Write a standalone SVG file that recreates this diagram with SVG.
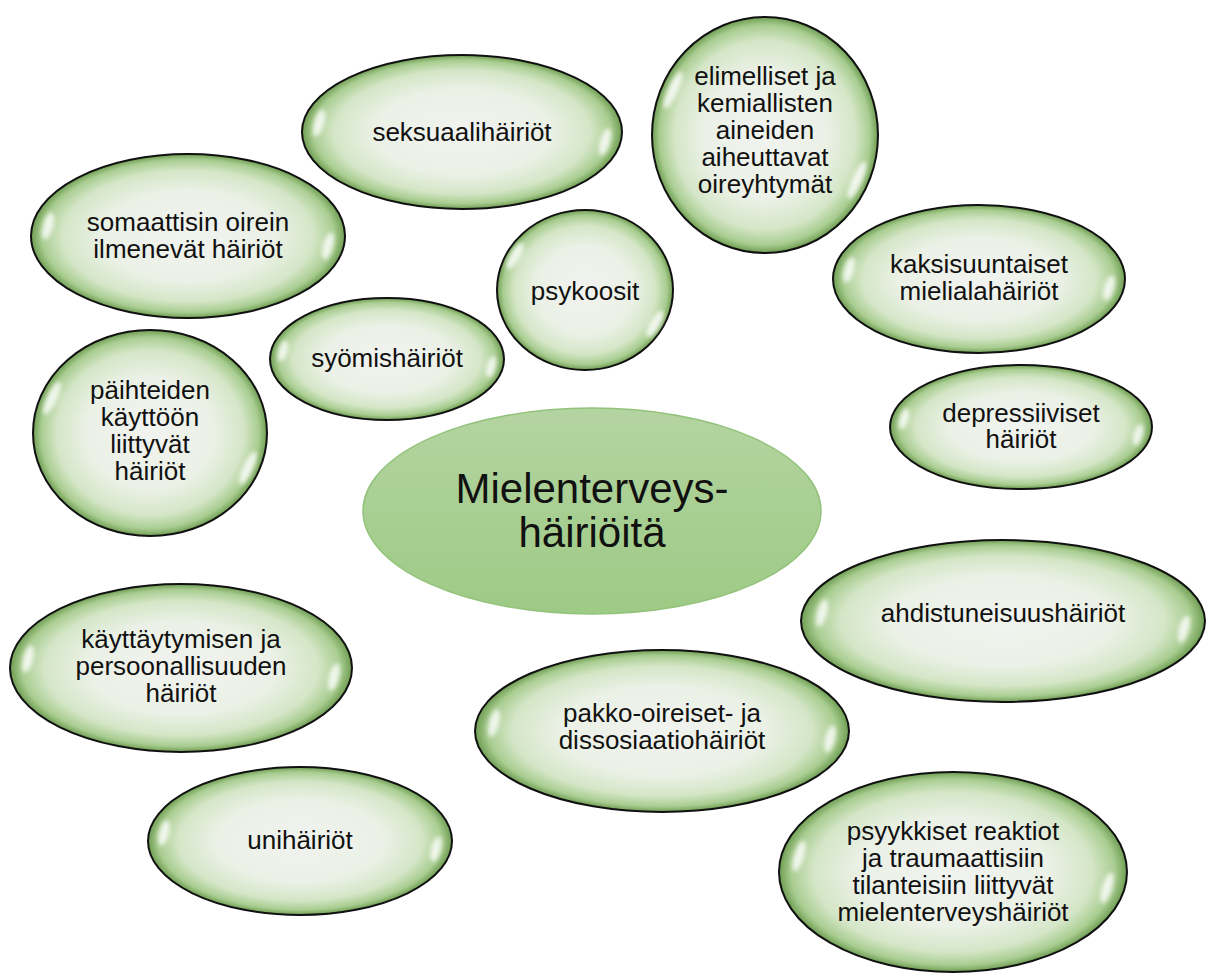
<svg xmlns="http://www.w3.org/2000/svg" width="1217" height="974" viewBox="0 0 1217 974">
<defs>
<radialGradient id="bubble" cx="0.5" cy="0.5" r="0.5">
<stop offset="0" stop-color="#f1f3ef"/>
<stop offset="0.55" stop-color="#ebf1e6"/>
<stop offset="0.8" stop-color="#d4e6c7"/>
<stop offset="0.93" stop-color="#a9cd91"/>
<stop offset="1" stop-color="#6e9d52"/>
</radialGradient>
<linearGradient id="core" x1="0" y1="0" x2="0" y2="1">
<stop offset="0" stop-color="#b4d4a1"/>
<stop offset="1" stop-color="#9dca85"/>
</linearGradient>
<filter id="blur" x="-1" y="-1" width="3" height="3"><feGaussianBlur stdDeviation="2"/></filter>
</defs>
<style>
.b{fill:url(#bubble);stroke:#111;stroke-width:2}
.hl{fill:#fff;opacity:.8;filter:url(#blur)}
.t{font-family:"Liberation Sans",Arial,sans-serif;font-size:26px;fill:#111;text-anchor:middle}
.c{fill:url(#core);stroke:#93c27b;stroke-width:1.5}
.ct{font-family:"Liberation Sans",Arial,sans-serif;font-size:42px;fill:#111;text-anchor:middle}
</style>
<rect width="1217" height="974" fill="#fff"/>
<g id="connectors"/>
<g id="center">
<ellipse class="c" cx="592" cy="511" rx="229" ry="103"/>
<text class="ct" x="592" y="503">Mielenterveys-</text>
<text class="ct" x="592" y="547">häiriöitä</text>
</g>
<g id="seksuaali">
<ellipse class="b" cx="462" cy="132" rx="160" ry="77"/>
<ellipse class="hl" cx="319" cy="123" rx="5" ry="14" transform="rotate(16 319 123)"/>
<ellipse class="hl" cx="605" cy="142" rx="5" ry="14" transform="rotate(16 605 142)"/>
<text class="t" x="462" y="141">seksuaalihäiriöt</text>
</g>
<g id="elimelliset">
<ellipse class="b" cx="765" cy="135" rx="113" ry="118"/>
<ellipse class="hl" cx="673" cy="90" rx="5" ry="20" transform="rotate(24 673 90)"/>
<ellipse class="hl" cx="857" cy="180" rx="5" ry="20" transform="rotate(24 857 180)"/>
<text class="t" x="765" y="85">elimelliset ja</text>
<text class="t" x="765" y="112">kemiallisten</text>
<text class="t" x="765" y="139">aineiden</text>
<text class="t" x="765" y="166">aiheuttavat</text>
<text class="t" x="765" y="193">oireyhtymät</text>
</g>
<g id="somaattisin">
<ellipse class="b" cx="188" cy="236" rx="157" ry="82"/>
<ellipse class="hl" cx="48" cy="226" rx="5" ry="14" transform="rotate(15 48 226)"/>
<ellipse class="hl" cx="328" cy="246" rx="5" ry="14" transform="rotate(15 328 246)"/>
<text class="t" x="188" y="231">somaattisin oirein</text>
<text class="t" x="188" y="258">ilmenevät häiriöt</text>
</g>
<g id="psykoosit">
<ellipse class="b" cx="585" cy="290" rx="88" ry="80"/>
<ellipse class="hl" cx="515" cy="256" rx="5" ry="15" transform="rotate(30 515 256)"/>
<ellipse class="hl" cx="655" cy="324" rx="5" ry="15" transform="rotate(30 655 324)"/>
<text class="t" x="585" y="300">psykoosit</text>
</g>
<g id="kaksisuuntaiset">
<ellipse class="b" cx="979" cy="279" rx="146" ry="74"/>
<ellipse class="hl" cx="849" cy="270" rx="5" ry="13" transform="rotate(15 849 270)"/>
<ellipse class="hl" cx="1109" cy="288" rx="5" ry="13" transform="rotate(15 1109 288)"/>
<text class="t" x="979" y="273">kaksisuuntaiset</text>
<text class="t" x="979" y="300">mielialahäiriöt</text>
</g>
<g id="syomis">
<ellipse class="b" cx="387" cy="359" rx="117" ry="61"/>
<ellipse class="hl" cx="283" cy="351" rx="4.5" ry="11" transform="rotate(15 283 351)"/>
<ellipse class="hl" cx="491" cy="367" rx="4.5" ry="11" transform="rotate(15 491 367)"/>
<text class="t" x="387" y="367">syömishäiriöt</text>
</g>
<g id="paihteiden">
<ellipse class="b" cx="150" cy="433" rx="117" ry="103"/>
<ellipse class="hl" cx="52" cy="398" rx="5" ry="18" transform="rotate(25 52 398)"/>
<ellipse class="hl" cx="248" cy="468" rx="5" ry="18" transform="rotate(25 248 468)"/>
<text class="t" x="150" y="399">päihteiden</text>
<text class="t" x="150" y="426">käyttöön</text>
<text class="t" x="150" y="453">liittyvät</text>
<text class="t" x="150" y="480">häiriöt</text>
</g>
<g id="depressiiviset">
<ellipse class="b" cx="1021" cy="427" rx="131" ry="62"/>
<ellipse class="hl" cx="904" cy="419" rx="4.5" ry="11" transform="rotate(16 904 419)"/>
<ellipse class="hl" cx="1138" cy="435" rx="4.5" ry="11" transform="rotate(16 1138 435)"/>
<text class="t" x="1021" y="422">depressiiviset</text>
<text class="t" x="1021" y="448">häiriöt</text>
</g>
<g id="ahdistuneisuus">
<ellipse class="b" cx="1003" cy="621" rx="202" ry="81"/>
<ellipse class="hl" cx="822" cy="613" rx="5" ry="14" transform="rotate(15 822 613)"/>
<ellipse class="hl" cx="1184" cy="629" rx="5" ry="14" transform="rotate(15 1184 629)"/>
<text class="t" x="1003" y="622">ahdistuneisuushäiriöt</text>
</g>
<g id="kayttaytymisen">
<ellipse class="b" cx="181" cy="668" rx="171" ry="84"/>
<ellipse class="hl" cx="28" cy="659" rx="5" ry="14" transform="rotate(14 28 659)"/>
<ellipse class="hl" cx="334" cy="677" rx="5" ry="14" transform="rotate(14 334 677)"/>
<text class="t" x="181" y="648">käyttäytymisen ja</text>
<text class="t" x="181" y="675">persoonallisuuden</text>
<text class="t" x="181" y="702">häiriöt</text>
</g>
<g id="pakko">
<ellipse class="b" cx="662" cy="731" rx="187" ry="81"/>
<ellipse class="hl" cx="494" cy="723" rx="5" ry="14" transform="rotate(14 494 723)"/>
<ellipse class="hl" cx="830" cy="739" rx="5" ry="14" transform="rotate(14 830 739)"/>
<text class="t" x="662" y="722">pakko-oireiset- ja</text>
<text class="t" x="662" y="749">dissosiaatiohäiriöt</text>
</g>
<g id="uni">
<ellipse class="b" cx="300" cy="841" rx="152" ry="74"/>
<ellipse class="hl" cx="164" cy="833" rx="5" ry="13" transform="rotate(14 164 833)"/>
<ellipse class="hl" cx="436" cy="849" rx="5" ry="13" transform="rotate(14 436 849)"/>
<text class="t" x="300" y="849">unihäiriöt</text>
</g>
<g id="psyykkiset">
<ellipse class="b" cx="953" cy="872" rx="174" ry="100"/>
<ellipse class="hl" cx="799" cy="856" rx="5" ry="16" transform="rotate(17 799 856)"/>
<ellipse class="hl" cx="1107" cy="888" rx="5" ry="16" transform="rotate(17 1107 888)"/>
<text class="t" x="953" y="840">psyykkiset reaktiot</text>
<text class="t" x="953" y="867">ja traumaattisiin</text>
<text class="t" x="953" y="894">tilanteisiin liittyvät</text>
<text class="t" x="953" y="921">mielenterveyshäiriöt</text>
</g>
</svg>
